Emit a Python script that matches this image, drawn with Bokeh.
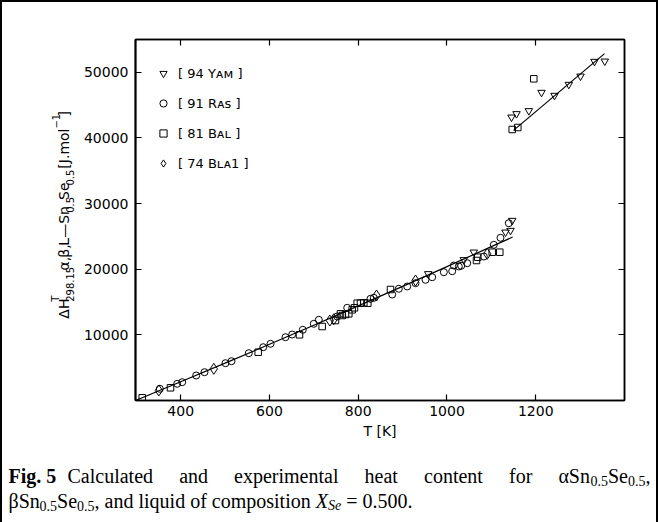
import math
from bokeh.plotting import figure
from bokeh.layouts import row, column
from bokeh.models import Range1d, LinearAxis, FixedTicker, Legend, LegendItem
from bokeh.core.properties import value
from bokeh.embed import file_html
from bokeh.resources import INLINE

# ---------------- data ----------------
calc_solid_T = [298.15, 400, 500, 600, 700, 800, 900, 1000, 1100, 1148]
calc_solid_H = [0, 2850, 5690, 8560, 11470, 14410, 17390, 20400, 23450, 24900]
calc_liq_T = [1150, 1355]
calc_liq_H = [41150, 52850]

yam_T = [957.7, 1038, 1060.4, 1131.9, 1143.1, 1147,
         1145.4, 1156.7, 1184.4, 1213, 1242.3, 1274.5, 1300.9, 1332.4, 1355.6]
yam_H = [19303, 21436, 22594, 25641, 25900, 27423,
         43161, 43679, 44136, 46924, 46467, 48143, 49407, 51647, 51692]

ras_T = [352.9, 392.1, 403.4, 434.9, 453.6, 500.9, 514.5, 553.4, 585.9, 602.4, 636.1, 651.2,
         675.1, 699.9, 711.2, 752.6, 775.2, 827.7, 835.1, 876.6, 891.4, 910.4, 929.1, 951.6,
         966.7, 992.9, 1011.8, 1015.4, 1026.6, 1032, 1045.6, 1083, 1105.5, 1120.6, 1139.3]
ras_H = [1782, 2544, 2788, 3809, 4312, 5683, 5987, 7206, 8120, 8638, 9644, 10055,
         10771, 11685, 12295, 12797, 14123, 15494, 15646, 16149, 17017, 17368, 17871, 18389,
         18785, 19547, 19699, 20567, 20415, 20522, 20918, 21938, 23721, 24788, 27012]

bal_T = [313.2, 377, 574.6, 667.7, 718.8, 748.8, 760, 763.9, 771.3, 778.8, 786.4, 791.6,
         797.7, 805.1, 812.6, 821.6, 872.7, 1066.5, 1069.4, 1101.9, 1119,
         1147, 1159.6, 1195.6]
bal_H = [411, 1935, 7359, 10009, 11274, 12188, 13209, 12950, 13102, 13209, 13818, 14123,
         14824, 14824, 14885, 14824, 16911, 21329, 21832, 22594, 22594,
         41287, 41592, 49011]

bla_T = [350.7, 474.6, 736, 745, 841.2, 929.1, 1090.6]
bla_H = [1524, 4829, 12188, 12386, 15997, 18282, 22350]

x_ticks = [400, 600, 800, 1000, 1200]
y_ticks = [10000, 20000, 30000, 40000, 50000]
legend_labels = ["[ 94 Y\u1d00\u1d0d ]", "[ 91 R\u1d00s ]", "[ 81 B\u1d00\u029f ]", "[ 74 B\u029f\u1d001 ]"]
x_label = "T [K]"

# ---------------- layout sizes ----------------
W, H = 658, 522
YW = 76            # width of the strip holding the rotated y title
TOPH = 450         # height of the chart row
CAPH = H - TOPH    # caption strip
FL, FR, FT, FB = 135, 624, 39, 400   # frame in page pixels
X0, X1, Y0, Y1 = 298.15, 1400.0, 0.0, 55000.0

p = figure(width=W - YW, height=TOPH, output_backend="svg", toolbar_location=None,
           x_range=Range1d(X0, X1), y_range=Range1d(Y0, Y1),
           min_border_left=FL - YW, min_border_right=W - FR,
           min_border_top=FT, min_border_bottom=TOPH - FB,
           border_fill_color=None, background_fill_color="white",
           outline_line_color="black", outline_line_width=1.5)
p.grid.visible = False

xb = p.xaxis[0]
yl = p.yaxis[0]
xt = LinearAxis()
yr = LinearAxis()
p.add_layout(xt, "above")
p.add_layout(yr, "right")
for ax in (xb, xt):
    ax.ticker = FixedTicker(ticks=x_ticks)
for ax in (yl, yr):
    ax.ticker = FixedTicker(ticks=y_ticks)
for ax in (xb, yl, xt, yr):
    ax.minor_tick_line_color = None
    ax.major_tick_in = 6
    ax.major_tick_out = 0
    ax.axis_line_color = "black"
    ax.axis_line_width = 1.5
    ax.major_tick_line_color = "black"
    ax.major_tick_line_width = 1.2
    ax.major_label_text_font = "DejaVu Sans"
    ax.major_label_text_font_size = "14px"
    ax.major_label_text_color = "black"
    ax.major_label_standoff = 5
yl.axis_line_width = 2
yl.major_label_standoff = 7
for ax in (xt, yr):
    ax.major_label_text_color = None
xb.axis_label = x_label
xb.axis_label_text_font = "DejaVu Sans"
xb.axis_label_text_font_size = "14px"
xb.axis_label_text_font_style = "normal"
xb.axis_label_text_color = "black"
xb.axis_label_standoff = 4

# calculated curves
p.line(calc_solid_T, calc_solid_H, line_color="black", line_width=1.2)
p.line(calc_liq_T, calc_liq_H, line_color="black", line_width=1.2)

mk = dict(fill_color=None, line_color="black", line_width=1)
r_yam = p.scatter(yam_T, yam_H, marker="inverted_triangle", size=7.5, **mk)
r_ras = p.scatter(ras_T, ras_H, marker="circle", size=7, **mk)
r_bal = p.scatter(bal_T, bal_H, marker="square", size=6.5, **mk)
r_bla = p.scatter(bla_T, bla_H, marker="diamond", size=11, **mk)

legend = Legend(items=[LegendItem(label=legend_labels[0], renderers=[r_yam]),
                       LegendItem(label=legend_labels[1], renderers=[r_ras]),
                       LegendItem(label=legend_labels[2], renderers=[r_bal]),
                       LegendItem(label=legend_labels[3], renderers=[r_bla])],
                location="top_left", margin=19, padding=0, glyph_width=18, glyph_height=30,
                label_height=30, spacing=0, label_standoff=6, border_line_color=None,
                background_fill_alpha=0, label_text_font="DejaVu Sans",
                label_text_font_size="13px", label_text_color="black")
p.add_layout(legend)


def text_strip(w, h):
    f = figure(width=w, height=h, output_backend="svg", toolbar_location=None,
               x_range=Range1d(0, w), y_range=Range1d(h, 0),
               x_axis_location=None, y_axis_location=None,
               min_border=0, border_fill_color=None, background_fill_color=None,
               outline_line_color=None)
    f.grid.visible = False
    return f


# ---------------- text helpers ----------------
TM = {' ': .25, ',': .25, '.': .25, '=': .564, 'a': .444, 'b': .5, 'c': .444, 'd': .5, 'e': .444,
      'f': .333, 'g': .5, 'h': .5, 'i': .278, 'j': .278, 'k': .5, 'l': .278, 'm': .778, 'n': .5,
      'o': .5, 'p': .5, 'q': .5, 'r': .333, 's': .389, 't': .278, 'u': .5, 'v': .5, 'w': .722,
      'x': .5, 'y': .5, 'z': .444, 'C': .667, 'S': .556, 'X': .722, 'F': .556,
      '\u03b1': .55, '\u03b2': .5}
TB = {' ': .25, '.': .25, 'F': .611, 'i': .278, 'g': .5}
TI = {'X': .611, 'S': .5, 'e': .444}


def width(s, size, table, default):
    return sum(table.get(c, default) for c in s) * size


# rotated y-axis title: ΔH^T_298.15 α, β, L—Sn0.5Se0.5 [J.mol^-1]
yfig = text_strip(YW, TOPH)


def vlabel(text, bx, py, size):
    yfig.text(x=[bx], y=[py], text=[text], angle=math.pi / 2,
              text_font=value("DejaVu Sans"), text_font_size=value(f"{size}px"),
              text_align="left", text_baseline="alphabetic", text_color="black")


M, S = 14, 10
BX = 63
SUB, SUP = BX + 6, BX - 8
# (text, baseline x, starting pixel from the bottom, size) — each piece anchored on its own
ypieces = [("\u0394H", BX, 348, M), ("T", SUP, 327, S), ("298.15", SUB, 327, S),
           ("\u03b1,", BX, 288, M), ("\u03b2,", BX, 272, M), ("L\u2014Sn", BX, 257, M),
           ("0.5", SUB, 216, S), ("Se", BX, 200, M), ("0.5", SUB, 182, S),
           ("[J.mol", BX, 161, M), ("\u22121", SUP, 111, S), ("]", BX, 96, M)]
for t, bx, py, sz in ypieces:
    vlabel(t, bx, py, sz)

# caption
cfig = text_strip(W, CAPH)
CS, SS, SH = 20, 14, 5
STY = {'r': (TM, .5, "normal"), 'b': (TB, .5, "bold"), 'i': (TI, .5, "italic")}


def hlabel(text, px, base, size, style):
    cfig.text(x=[px], y=[base - TOPH], text=[text], text_font=value("Liberation Serif"),
              text_font_size=value(f"{size}px"), text_font_style=STY[style][2],
              text_align="left", text_baseline="alphabetic", text_color="black")


def run_w(r):
    t, st, sz, sh = r
    return width(t, sz, STY[st][0], STY[st][1])


def place_runs(runs, px, base):
    for r in runs:
        hlabel(r[0], px, base + r[3], r[2], r[1])
        px += run_w(r)
    return px


B1, B2 = 475, 500
place_runs([("Fig. 5", 'b', CS, 0)], 8, B1)
words1 = [[("Calculated", 'r', CS, 0)], [("and", 'r', CS, 0)], [("experimental", 'r', CS, 0)],
          [("heat", 'r', CS, 0)], [("content", 'r', CS, 0)], [("for", 'r', CS, 0)],
          [("\u03b1Sn", 'r', CS, 0), ("0.5", 'r', SS, SH), ("Se", 'r', CS, 0),
           ("0.5", 'r', SS, SH), (",", 'r', CS, 0)]]
nat = sum(run_w(r) for w in words1 for r in w)
gap = (650 - 67 - nat) / (len(words1) - 1)
px = 67
for w in words1:
    px = place_runs(w, px, B1) + gap

sp = width(" ", CS, TM, .5)
px = place_runs([("\u03b2Sn", 'r', CS, 0), ("0.5", 'r', SS, SH), ("Se", 'r', CS, 0),
                 ("0.5", 'r', SS, SH), (",", 'r', CS, 0)], 8, B2) + sp
px = place_runs([("and liquid of composition", 'r', CS, 0)], px, B2) + sp
px = place_runs([("X", 'i', CS, 0), ("Se", 'i', SS, SH)], px, B2) + sp
place_runs([("= 0.500.", 'r', CS, 0)], px, B2)

page = column(row(yfig, p), cfig)
page.styles = {"box-shadow": "inset 2px 2px 0 0 #000, inset -2px 0 0 0 #000"}

open("out.html", "w").write(file_html(page, INLINE))
